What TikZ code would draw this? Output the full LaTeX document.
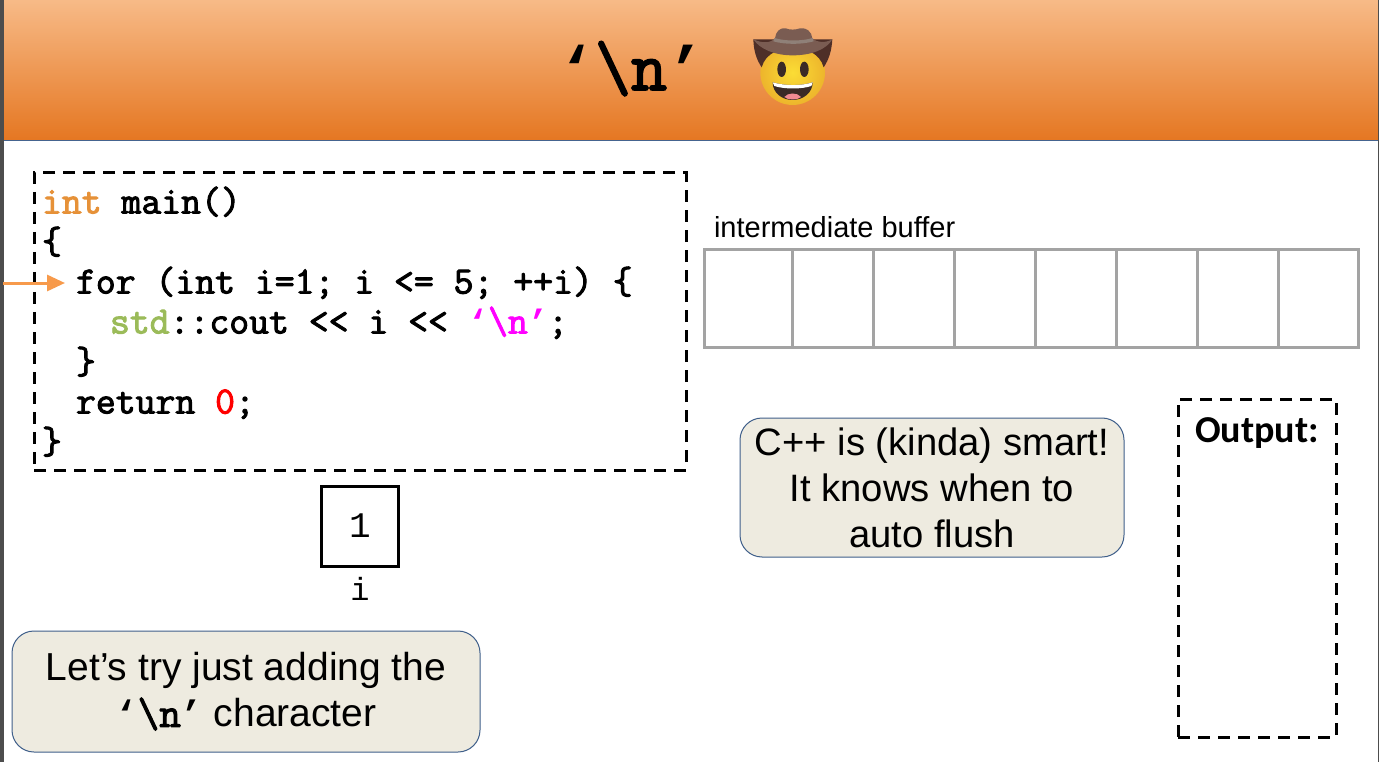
\documentclass[tikz,border=0pt]{standalone}
\usepackage{fontspec}
\setmainfont{Liberation Sans}
\newfontfamily\codefont{Liberation Mono}
\newfontfamily\quotefont[Scale=0.875]{Liberation Mono}
\newfontfamily\slabfont[FakeBold=2.5]{Latin Modern Mono}
\newfontfamily\outfont{Carlito}
\newcommand{\nchar}{{\quotefont\bfseries ‘}\textbackslash n{\quotefont\bfseries ’}}
\usetikzlibrary{arrows.meta}
\definecolor{hdrtop}{HTML}{F7BA87}
\definecolor{hdrbot}{HTML}{E57722}
\definecolor{hdrline}{HTML}{45648F}
\definecolor{stripgrey}{HTML}{4D4D4D}
\definecolor{kwint}{HTML}{E69138}
\definecolor{kwstd}{HTML}{9BBB59}
\definecolor{kwchr}{HTML}{FF00FF}
\definecolor{kwnum}{HTML}{FF0000}
\definecolor{arrowc}{HTML}{F79A4B}
\definecolor{bufgrey}{HTML}{A3A3A3}
\definecolor{notefill}{HTML}{EEEBE0}
\definecolor{notedraw}{HTML}{3F5F8A}
\definecolor{hatmain}{HTML}{7A5C52}
\definecolor{hatband}{HTML}{8F8078}
\definecolor{hatdark}{HTML}{4E2F28}
\definecolor{faceyel}{HTML}{FBDD35}
\definecolor{faceedge}{HTML}{EDB52C}
\definecolor{mouthd}{HTML}{3A2A26}
\definecolor{tongue}{HTML}{F08A93}
\tikzset{
  every node/.append style={outer sep=0pt},
  dashbox/.style={draw=black,line width=3pt,dash pattern=on 12pt off 8pt},
  codeline/.style={anchor=base west,inner sep=0pt,font=\slabfont\fontsize{38.6}{40}\selectfont},
  bufcell/.style={draw=bufgrey,line width=3pt,inner sep=0pt,anchor=north west,minimum height=97pt},
  note/.style={draw=notedraw,line width=1pt,fill=notefill,rounded corners=22pt,inner sep=0pt,align=center,anchor=north west},
}
\begin{document}
\begin{tikzpicture}[x=1pt,y=-1pt]
\useasboundingbox (0,0) rectangle (1379,762);
\fill[white] (0,0) rectangle (1379,762);
% header
\shade[top color=hdrtop,bottom color=hdrbot] (0,0) rectangle (1379,140);
\draw[hdrline,line width=1pt] (0,140.5) -- (1379,140.5);
\fill[stripgrey] (0,0) rectangle (3.5,762);
\draw[stripgrey,line width=1pt] (1378.5,0) -- (1378.5,762);
\node[anchor=base,inner sep=0pt,font=\slabfont\fontsize{70}{72}\selectfont] (title) at (631,90) {\nchar};
% emoji
\begin{scope}[shift={(745,20)},scale=0.3333]
  \shade[inner color=faceyel,outer color=faceedge] (143,158) circle (97);
  \fill[hatdark] (25,58) .. controls (26,92) and (34,118) .. (50,142) .. controls (56,120) and (70,105) .. (90,95) -- (196,95) .. controls (216,105) and (230,120) .. (236,142) .. controls (252,118) and (260,92) .. (262,58) -- cycle;
  \fill[hatmain] (25,58) .. controls (55,72) and (78,68) .. (90,55) .. controls (92,35) and (105,22) .. (122,25) .. controls (135,30) and (150,30) .. (165,25) .. controls (185,22) and (200,35) .. (202,55) .. controls (215,68) and (240,70) .. (262,58) .. controls (245,88) and (200,106) .. (143,106) .. controls (90,106) and (45,88) .. (25,58) -- cycle;
  \fill[hatband] (88,54) .. controls (120,64) and (170,64) .. (203,54) -- (206,64) .. controls (170,74) and (120,74) .. (85,64) -- cycle;
  \fill[mouthd] (110,148) ellipse (13 and 23);
  \fill[mouthd] (178,148) ellipse (13 and 23);
  \fill[mouthd] (83,187) .. controls (120,198) and (170,198) .. (203,187) .. controls (203,218) and (175,240) .. (143,240) .. controls (110,240) and (83,218) .. (83,187) -- cycle;
  \fill[tongue] (118,231) .. controls (128,217) and (158,217) .. (168,231) .. controls (158,241) and (128,241) .. (118,231) -- cycle;
  \fill[white] (83,187) .. controls (120,198) and (170,198) .. (203,187) -- (199,198) .. controls (170,208) and (118,208) .. (88,198) -- cycle;
\end{scope}
% code
\node[dashbox,anchor=north west,inner sep=0pt,minimum width=652pt,minimum height=297pt] (codebox) at (34,173) {};
\node[codeline] (l1) at (42,213.5) {\textcolor{kwint}{int} main()};
\node[codeline] (l2) at (42,253.5) {\{};
\node[codeline] (l3) at (76,293.5) {for (int i=1; i <= 5; ++i) \{};
\node[codeline] (l4) at (110,333.5) {\textcolor{kwstd}{std}::cout << i << \textcolor{kwchr}{\nchar};};
\node[codeline] (l5) at (76,373.5) {\}};
\node[codeline] (l6) at (76,413.5) {return \textcolor{kwnum}{0};};
\node[codeline] (l7) at (42,453.5) {\}};
\coordinate (arrowstart) at (3,283);
\draw[arrowc,line width=3pt,-{Triangle[length=18pt,width=16pt]},shorten >=11pt] (arrowstart) -- (arrowstart -| l3.west);
% variable
\node[draw=black,line width=3pt,anchor=north west,inner sep=0pt,minimum width=77pt,minimum height=80pt,font=\codefont\fontsize{36}{40}\selectfont] (ibox) at (321.5,486) {1};
\node[anchor=base,inner sep=0pt,font=\codefont\fontsize{32}{36}\selectfont] (ilabel) at (360,600) {i};
% notes
\node[note,minimum width=468pt,minimum height=121pt,font=\fontsize{39}{46}\selectfont] (note1) at (12,631) {Let’s try just adding the\\{\slabfont\fontsize{42}{46}\selectfont \nchar} character};
\node[note,minimum width=384pt,minimum height=139pt,font=\fontsize{38.2}{46}\selectfont] (note2) at (740,418) {C++ is (kinda) smart!\\It knows when to\\auto flush};
% buffer
\node[anchor=base west,inner sep=0pt,font=\fontsize{29}{32}\selectfont] (buflabel) at (714,237) {intermediate buffer};
\foreach \n/\xa/\w in {1/704.5/87.5,2/792/81,3/873/81,4/954/81,5/1035/81,6/1116/81,7/1197/81,8/1278/80}
  \node[bufcell,minimum width=\w pt] (buf\n) at (\xa,250) {};
% output
\node[dashbox,anchor=north west,inner sep=0pt,minimum width=158pt,minimum height=338pt] (outbox) at (1178,399) {};
\node[anchor=base,inner sep=0pt,font=\outfont\bfseries\fontsize{38}{40}\selectfont] (outlabel) at (1257,442) {Output:};
\end{tikzpicture}
\end{document}
